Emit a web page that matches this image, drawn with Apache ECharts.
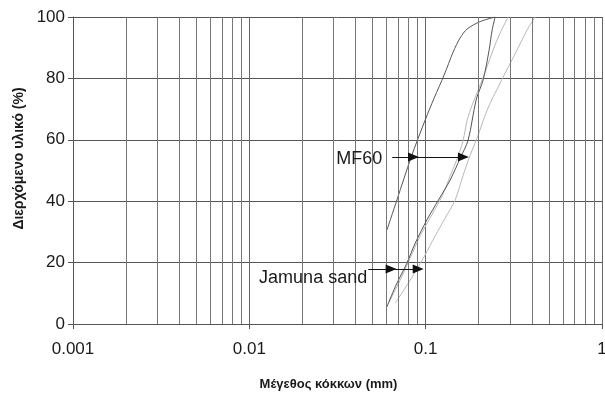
<!DOCTYPE html>
<html><head><meta charset="utf-8">
<script src="https://cdn.jsdelivr.net/npm/echarts@6/dist/echarts.min.js"></script>
<style>html,body{margin:0;padding:0;background:#fff}#c{width:605px;height:396px}</style>
</head><body><div id="c"></div>
<script>
// Grain size distribution curves: [size (mm), passing (%)]
const mf60Dark = [[0.0603,30.6],[0.0687,40.4],[0.0828,54.4],[0.0993,66.4],[0.1117,73.6],[0.1273,81.1],[0.1432,88.6],[0.1569,93.2],[0.1719,96.1],[0.2037,98.5],[0.2477,100]];
const jamunaDark = [[0.0603,5.6],[0.0672,12.1],[0.0782,19.8],[0.0872,26.3],[0.1016,33.9],[0.1182,40.4],[0.1377,46.9],[0.1569,54],[0.1741,59.9],[0.1933,73],[0.2118,79.5],[0.2291,89.3],[0.2383,95.8],[0.2477,100]];
const light1 = [[0.0621,7.2],[0.0717,14.3],[0.0817,21.5],[0.0931,28.7],[0.1089,35.8],[0.124,41.7],[0.1377,48.2],[0.1528,54.7],[0.1632,59.9],[0.1719,66.4],[0.1834,71.3],[0.1984,76.2],[0.2174,82.1],[0.2414,89.3],[0.2644,94.8],[0.2936,100]];
const light2 = [[0.0672,6.8],[0.0765,11.7],[0.0872,16.9],[0.0993,22.5],[0.1132,28.7],[0.129,34.5],[0.147,40.4],[0.1632,48.5],[0.1788,55],[0.1958,60.6],[0.2232,69.7],[0.2644,78.5],[0.3301,89.3],[0.3762,95.8],[0.4176,100]];

// Axis ticks / grid
const xMin = 0.001, xMax = 1;
const minorGridX = [0.002,0.003,0.004,0.005,0.006,0.007,0.008,0.009,
                    0.02,0.03,0.04,0.05,0.06,0.07,0.08,0.09,
                    0.2,0.3,0.4,0.5,0.6,0.7,0.8,0.9];
const yMin = 0, yMax = 100, yStep = 20;

// Annotations: arrow points [x, y] (start, first tip, second tip)
const mf60Label = 'MF60';
const mf60Arrow = [[0.0646,54.4],[0.0853,54.4],[0.1637,54.4]];
const jamunaLabel = 'Jamuna sand';
const jamunaArrow = [[0.0472,17.9],[0.0637,17.9],[0.0907,17.9]];

const xTitle = 'Μέγεθος κόκκων (mm)';
const yTitle = 'Διερχόμενο υλικό (%)';

const FONT = 'Liberation Sans, Arial, sans-serif';
const chart = echarts.init(document.getElementById('c'), null, {renderer: 'canvas'});

function arrowSeries(pts, label, labelOffset, dist) {
  return {
    type: 'line', data: [], silent: true, animation: false,
    markLine: {
      silent: true, animation: false,
      symbol: ['none', 'triangle'], symbolSize: [9, 11],
      label: {show: false},
      lineStyle: {color: '#111', width: 1, type: 'solid'},
      emphasis: {disabled: true},
      data: [
        [{coord: pts[0]}, {coord: pts[1]}],
        [{coord: pts[1]}, {coord: pts[2]}]
      ]
    },
    markPoint: {
      silent: true, animation: false,
      symbol: 'circle', symbolSize: 0,
      label: {show: true, position: 'left', distance: dist, offset: labelOffset,
              formatter: label, color: '#1a1a1a', fontSize: 18, fontFamily: FONT},
      data: [{coord: pts[0]}]
    }
  };
}

chart.setOption({
  animation: false,
  backgroundColor: '#fff',
  grid: {left: 73, right: 3, top: 17, bottom: 72, outerBoundsMode: 'none', containLabel: false},
  xAxis: {
    type: 'log', logBase: 10, min: xMin, max: xMax,
    axisLine: {show: true, lineStyle: {color: '#555', width: 1}},
    axisTick: {show: true, length: 5, lineStyle: {color: '#555'}},
    minorTick: {show: false},
    splitLine: {show: true, lineStyle: {color: '#666', width: 1}},
    axisLabel: {color: '#1a1a1a', fontSize: 17, fontFamily: FONT, margin: 17,
                formatter: v => String(+v.toPrecision(3))},
    name: xTitle, nameLocation: 'middle', nameGap: 54,
    nameTextStyle: {color: '#1a1a1a', fontSize: 13, fontWeight: 'bold', fontFamily: FONT,
                    padding: [0, 18, 0, 0]}
  },
  yAxis: {
    type: 'value', min: yMin, max: yMax, interval: yStep,
    axisLine: {show: true, lineStyle: {color: '#555', width: 1}},
    axisTick: {show: true, length: 5, lineStyle: {color: '#555'}},
    splitLine: {show: true, lineStyle: {color: '#555', width: 1}},
    axisLabel: {color: '#1a1a1a', fontSize: 17, fontFamily: FONT, margin: 8},
    name: yTitle, nameLocation: 'middle', nameGap: 46, nameRotate: 90,
    nameTextStyle: {color: '#1a1a1a', fontSize: 14, fontWeight: 'bold', fontFamily: FONT,
                    padding: [0, 0, 0, 24]}
  },
  series: [
    {
      type: 'line', data: [], silent: true,
      markLine: {
        silent: true, animation: false, symbol: ['none', 'none'],
        label: {show: false},
        lineStyle: {color: '#777', width: 1, type: 'solid'},
        emphasis: {disabled: true},
        data: minorGridX.map(v => [{coord: [v, yMin]}, {coord: [v, yMax]}])
      }
    },
    {name: 'light1', type: 'line', data: light1, showSymbol: false, smooth: 0.3,
     lineStyle: {color: '#b8b8b8', width: 1}},
    {name: 'light2', type: 'line', data: light2, showSymbol: false, smooth: 0.3,
     lineStyle: {color: '#b8b8b8', width: 1}},
    {name: 'mf60', type: 'line', data: mf60Dark, showSymbol: false, smooth: 0.3,
     lineStyle: {color: '#555', width: 1}},
    {name: 'jamuna', type: 'line', data: jamunaDark, showSymbol: false, smooth: 0.3,
     lineStyle: {color: '#555', width: 1}},
    arrowSeries(mf60Arrow, mf60Label, [0, 2], 10),
    arrowSeries(jamunaArrow, jamunaLabel, [0, 9], 1)
  ]
});
</script>
</body></html>
